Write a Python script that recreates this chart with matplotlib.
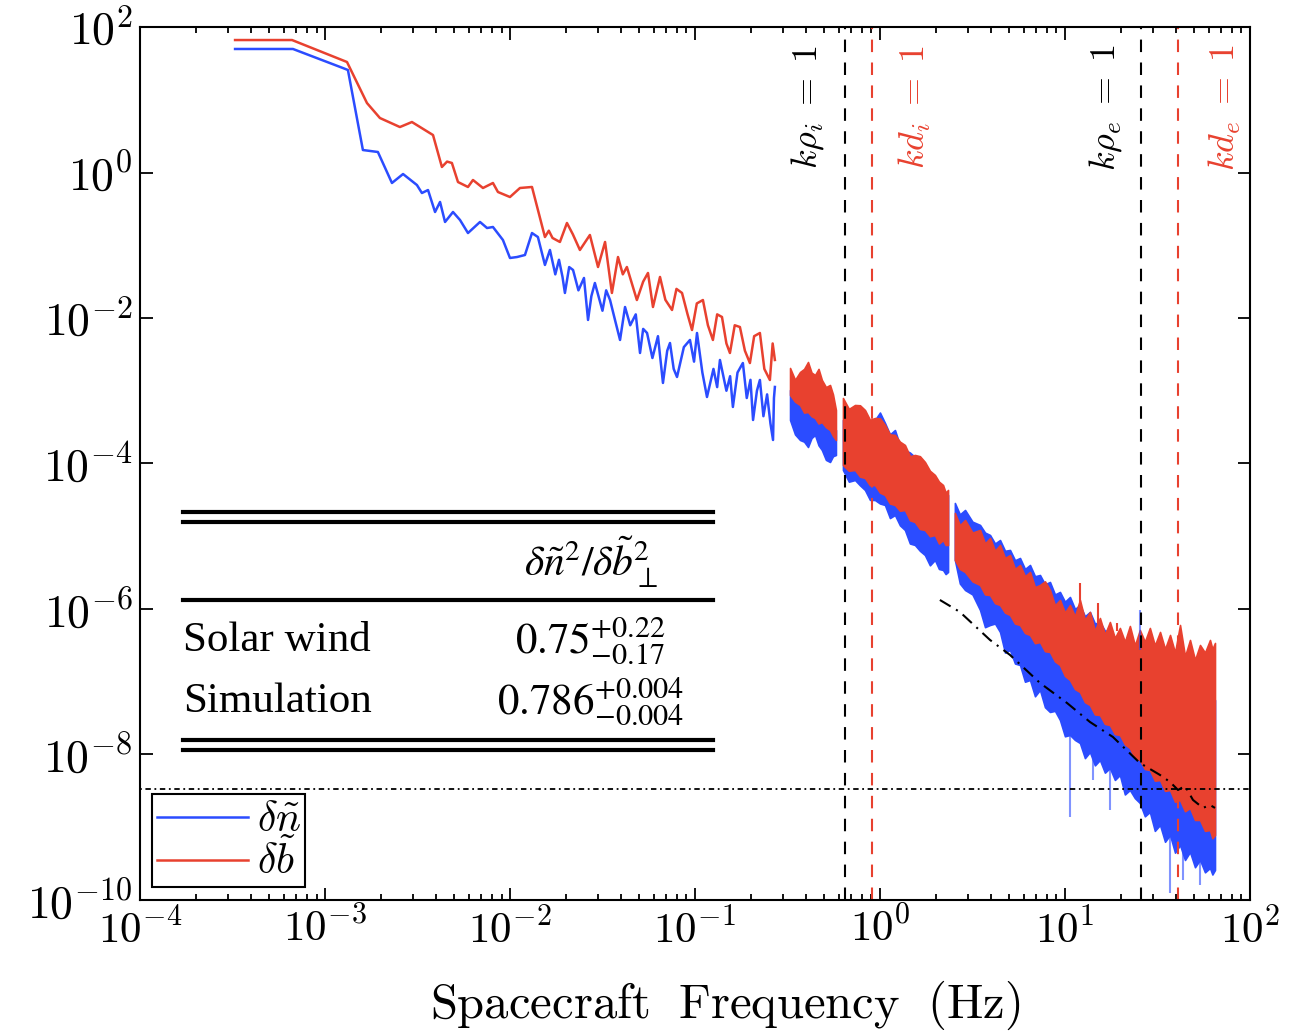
import numpy as np
import matplotlib
matplotlib.use('Agg')
import matplotlib.pyplot as plt
from matplotlib.lines import Line2D
from matplotlib.ticker import FixedLocator, FuncFormatter, LogLocator, NullLocator

plt.rcParams['mathtext.fontset'] = 'cm'
plt.rcParams['font.family'] = ['DejaVu Serif']

BLUE = '#2b4cff'
RED = '#e8412f'

# ---- data: log10(frequency / Hz) and log10(PSD) ----
# low frequency part, single traces
blue_a_logf = [-3.486, -3.173, -2.903, -2.876, -2.795, -2.714, -2.638, -2.578, -2.503, -2.476,
               -2.443, -2.405, -2.378, -2.351, -2.308, -2.270, -2.227, -2.162, -2.124, -2.092,
               -2.038, -2.000, -1.962, -1.919, -1.881, -1.849, -1.811, -1.784, -1.755, -1.735,
               -1.716, -1.703, -1.680, -1.659, -1.630, -1.600, -1.578, -1.560, -1.541, -1.500,
               -1.480, -1.459, -1.430, -1.405, -1.378, -1.350, -1.320, -1.297, -1.280, -1.259,
               -1.230, -1.200, -1.173, -1.150, -1.135, -1.115, -1.097, -1.060, -1.027, -1.005,
               -0.989, -0.960, -0.935, -0.900, -0.880, -0.865, -0.830, -0.810, -0.795, -0.770,
               -0.741, -0.720, -0.700, -0.686, -0.665, -0.649, -0.630, -0.610, -0.592, -0.578,
               -0.573, -0.568]
blue_a_logp = [1.698, 1.698, 1.436, 1.409, 0.309, 0.282, -0.144, -0.021, -0.172, -0.282,
               -0.241, -0.543, -0.405, -0.680, -0.543, -0.653, -0.832, -0.680, -0.763, -0.749,
               -0.928, -1.175, -1.162, -1.134, -0.832, -0.887, -1.271, -1.065, -1.400, -1.200,
               -1.436, -1.656, -1.300, -1.340, -1.620, -1.450, -2.027, -1.700, -1.519, -1.900,
               -1.620, -1.753, -2.050, -2.302, -1.849, -2.100, -1.950, -2.481, -2.150, -2.206,
               -2.550, -2.250, -2.893, -2.450, -2.344, -2.700, -2.811, -2.400, -2.302, -2.600,
               -2.206, -2.750, -3.086, -2.700, -2.950, -2.577, -3.000, -2.800, -3.223, -2.750,
               -2.619, -3.100, -2.850, -3.402, -3.000, -2.852, -3.350, -3.050, -3.450, -3.677,
               -3.100, -2.948]

red_a_logf = [-3.486, -3.178, -2.881, -2.773, -2.703, -2.595, -2.530, -2.416, -2.368, -2.340,
              -2.314, -2.281, -2.227, -2.200, -2.146, -2.092, -2.065, -2.000, -1.946, -1.881,
              -1.811, -1.790, -1.770, -1.730, -1.692, -1.660, -1.622, -1.568, -1.524, -1.486,
              -1.449, -1.416, -1.390, -1.368, -1.314, -1.280, -1.254, -1.227, -1.189, -1.160,
              -1.124, -1.100, -1.070, -1.040, -1.016, -0.990, -0.957, -0.930, -0.903, -0.880,
              -0.854, -0.830, -0.811, -0.785, -0.757, -0.730, -0.703, -0.680, -0.649, -0.625,
              -0.595, -0.580, -0.568]
red_a_logp = [1.821, 1.821, 1.519, 0.955, 0.749, 0.625, 0.694, 0.515, 0.076, 0.150,
              0.131, -0.131, -0.199, -0.103, -0.213, -0.144, -0.268, -0.337, -0.213, -0.199,
              -0.887, -0.800, -0.900, -0.955, -0.694, -0.850, -1.065, -0.859, -1.299, -0.955,
              -1.656, -1.162, -1.400, -1.299, -1.753, -1.500, -1.381, -1.849, -1.436, -1.750,
              -1.890, -1.600, -1.656, -1.950, -2.165, -1.800, -1.753, -2.100, -2.302, -1.950,
              -1.986, -2.350, -2.481, -2.100, -2.124, -2.450, -2.619, -2.250, -2.206, -2.700,
              -2.852, -2.350, -2.577]

# high frequency parts, dense traces given as lower / upper envelopes
b1_logf = [-0.486, -0.459, -0.432, -0.410, -0.389, -0.370, -0.351, -0.332, -0.314, -0.292,
           -0.270, -0.254, -0.238]
b1_red_hi = [-2.687, -2.850, -2.742, -2.700, -2.605, -2.750, -2.784, -2.700, -2.852, -2.950,
             -2.921, -3.050, -3.265]
b1_red_lo = [-3.058, -3.150, -3.196, -3.300, -3.292, -3.350, -3.375, -3.450, -3.430, -3.500,
             -3.540, -3.620, -3.677]
b1_blue_hi = [-2.990, -3.050, -3.100, -3.150, -3.196, -3.220, -3.265, -3.300, -3.333, -3.400,
              -3.471, -3.500, -3.540]
b1_blue_lo = [-3.402, -3.600, -3.677, -3.700, -3.773, -3.650, -3.608, -3.750, -3.814, -3.950,
              -3.979, -3.900, -3.883]

b2_logf = [-0.200, -0.168, -0.135, -0.108, -0.081, -0.054, -0.027, 0.000, 0.027, 0.054, 0.081,
           0.108, 0.135, 0.162, 0.189, 0.216, 0.243, 0.270, 0.297, 0.319, 0.341, 0.355, 0.368]
b2_red_hi = [-3.100, -3.250, -3.196, -3.200, -3.265, -3.400, -3.375, -3.380, -3.471, -3.600, -3.608,
             -3.700, -3.746, -3.900, -3.883, -3.900, -3.979, -4.100, -4.158, -4.250, -4.296, -4.400, -4.364]
b2_red_lo = [-4.021, -4.100, -4.089, -4.180, -4.199, -4.300, -4.296, -4.400, -4.433, -4.550, -4.570,
             -4.650, -4.639, -4.780, -4.804, -4.900, -4.914, -5.000, -4.983, -5.100, -5.052, -5.120, -5.120]
b2_blue_hi = [-3.402, -3.450, -3.375, -3.500, -3.333, -3.450, -3.402, -3.300, -3.443, -3.600, -3.540,
              -3.750, -3.814, -3.850, -3.911, -4.050, -4.089, -4.200, -4.227, -4.350, -4.364, -4.400, -4.433]
b2_blue_lo = [-4.089, -4.250, -4.227, -4.300, -4.364, -4.500, -4.502, -4.550, -4.570, -4.750, -4.708,
              -4.850, -4.914, -5.100, -5.120, -5.200, -5.258, -5.400, -5.326, -5.450, -5.464, -5.520, -5.491]

c_logf = [0.405, 0.432, 0.460, 0.500, 0.541, 0.568, 0.595, 0.622, 0.649, 0.676, 0.703, 0.730,
          0.757, 0.784, 0.811, 0.838, 0.865, 0.892, 0.919, 0.946, 0.973, 1.000, 1.027, 1.054,
          1.081, 1.108, 1.135, 1.162, 1.189, 1.216, 1.243, 1.270, 1.297, 1.324, 1.351, 1.378,
          1.405, 1.432, 1.459, 1.486, 1.514, 1.541, 1.568, 1.595, 1.622, 1.649, 1.676, 1.703,
          1.730, 1.757, 1.784, 1.797, 1.811]
c_red_hi = [-4.680, -4.850, -4.777, -4.950, -4.914, -5.100, -5.024, -5.200, -5.120, -5.300, -5.258, -5.450,
            -5.395, -5.550, -5.491, -5.700, -5.670, -5.620, -5.739, -5.950, -5.876, -6.050, -5.945, -6.100,
            -5.876, -6.150, -6.041, -6.300, -6.124, -6.350, -6.179, -6.400, -6.261, -6.450, -6.234, -6.500,
            -6.289, -6.450, -6.261, -6.500, -6.316, -6.550, -6.357, -6.600, -6.220, -6.650, -6.426, -6.700,
            -6.495, -6.600, -6.426, -6.550, -6.467]
c_red_lo = [-5.326, -5.450, -5.491, -5.620, -5.670, -5.800, -5.808, -5.920, -5.945, -6.050, -6.082, -6.200,
            -6.220, -6.330, -6.357, -6.470, -6.454, -6.580, -6.591, -6.720, -6.770, -6.920, -6.976, -7.100,
            -7.141, -7.280, -7.320, -7.450, -7.457, -7.580, -7.595, -7.720, -7.732, -7.860, -7.911, -8.050,
            -8.076, -8.200, -8.213, -8.360, -8.351, -8.500, -8.488, -8.650, -8.625, -8.780, -8.735, -8.900,
            -8.900, -9.050, -9.038, -9.150, -9.107]
c_blue_hi = [-4.543, -4.700, -4.639, -4.800, -4.845, -4.950, -4.983, -5.100, -5.052, -5.200, -5.189, -5.330,
             -5.299, -5.450, -5.395, -5.550, -5.533, -5.660, -5.629, -5.800, -5.766, -5.900, -5.835, -6.000,
             -5.945, -6.100, -6.041, -6.200, -6.179, -6.300, -6.289, -6.400, -6.426, -6.500, -6.495, -6.550,
             -6.564, -6.650, -6.701, -6.780, -6.838, -6.900, -6.976, -7.050, -7.113, -7.200, -7.251, -7.300,
             -7.320, -7.350, -7.320, -7.300, -7.251]
c_blue_lo = [-5.326, -5.650, -5.739, -5.800, -6.014, -6.250, -6.220, -6.200, -6.316, -6.600, -6.564, -6.750,
             -6.770, -7.000, -6.976, -7.200, -7.113, -7.350, -7.416, -7.400, -7.526, -7.750, -7.732, -7.800,
             -7.842, -8.050, -7.966, -8.150, -8.076, -8.250, -8.186, -8.350, -8.282, -8.550, -8.488, -8.600,
             -8.667, -8.850, -8.790, -9.050, -8.969, -9.200, -9.107, -9.350, -9.244, -9.450, -9.340, -9.550,
             -9.450, -9.620, -9.560, -9.650, -9.588]

# isolated spikes (log10 f, log10 low, log10 high)
blue_spike_logf = [1.027, 1.151, 1.243, 1.405, 1.568, 1.638, 1.730]
blue_spike_lo = [-8.859, -8.351, -8.763, -6.564, -9.904, -9.725, -9.794]
blue_spike_hi = [-7.732, -7.990, -8.186, -6.014, -9.107, -9.244, -9.450]
red_spike_logf = [1.081, 1.178, 1.281]
red_spike_lo = [-6.000, -6.200, -6.300]
red_spike_hi = [-5.643, -5.917, -6.192]

# simulation spectrum (dash-dot)
sim_logf = [0.324, 0.432, 0.595, 0.703, 0.865, 1.011, 1.135, 1.259, 1.405, 1.514, 1.568, 1.611, 1.649,
            1.692, 1.746, 1.784, 1.811]
sim_logp = [-5.876, -6.041, -6.426, -6.632, -7.017, -7.292, -7.553, -7.759, -8.117, -8.282, -8.378, -8.488,
            -8.433, -8.625, -8.735, -8.694, -8.735]

noise_floor = 3.4e-9
scale_freqs = [0.645, 0.905, 25.8, 40.8]
scale_labels = [r'$k\rho_i\;=\;1$', r'$kd_i\;=\;1$', r'$k\rho_e\;=\;1$', r'$kd_e\;=\;1$']
scale_colors = ['k', RED, 'k', RED]
scale_label_dx = [-37, 43, -36, 47]

table_rows = ['Solar wind', 'Simulation']
table_vals = [r'$0.75^{+0.22}_{-0.17}$', r'$0.786^{+0.004}_{-0.004}$']
table_head = r'$\delta\tilde{n}^2/\delta\tilde{b}_{\perp}^2$'


def p10(v):
    return 10.0 ** np.asarray(v)


fig = plt.figure(figsize=(12.89, 10.31), dpi=100)
ax = fig.add_axes([0.1086, 0.1271, 0.8611, 0.8467])

# low-frequency traces
ax.plot(p10(blue_a_logf), p10(blue_a_logp), color=BLUE, lw=1.8, label=r'$\delta\tilde{n}$')
ax.plot(p10(red_a_logf), p10(red_a_logp), color=RED, lw=1.8, label=r'$\delta\tilde{b}$')

# dense high frequency traces
for lf, blo, bhi in [(b1_logf, b1_blue_lo, b1_blue_hi), (b2_logf, b2_blue_lo, b2_blue_hi),
                     (c_logf, c_blue_lo, c_blue_hi)]:
    ax.fill_between(p10(lf), p10(blo), p10(bhi), color=BLUE, lw=1.2, edgecolor=BLUE)
ax.vlines(p10(blue_spike_logf), p10(blue_spike_lo), p10(blue_spike_hi), color=BLUE, lw=1.5, alpha=0.6)
for lf, rlo, rhi in [(b1_logf, b1_red_lo, b1_red_hi), (b2_logf, b2_red_lo, b2_red_hi),
                     (c_logf, c_red_lo, c_red_hi)]:
    ax.fill_between(p10(lf), p10(rlo), p10(rhi), color=RED, lw=1.2, edgecolor=RED)
ax.vlines(p10(red_spike_logf), p10(red_spike_lo), p10(red_spike_hi), color=RED, lw=1.5)

ax.plot(p10(sim_logf), p10(sim_logp), color='k', lw=1.5, ls=(0, (6, 3, 1, 3)))

ax.axhline(noise_floor, color='k', lw=1.3, ls=(0, (1, 2, 3, 2)))
for fq, lab, col, dx in zip(scale_freqs, scale_labels, scale_colors, scale_label_dx):
    ax.axvline(fq, color=col, lw=1.5, ls=(0, (6, 5)))
    ax.annotate(lab, xy=(fq, 0.908), xycoords=('data', 'axes fraction'),
                xytext=(dx, 0), textcoords='offset pixels', rotation=90,
                color=col, fontsize=26, ha='center', va='center')

ax.set_xscale('log')
ax.set_yscale('log')
ax.set_xlim(1e-4, 1e2)
ax.set_ylim(1e-10, 1e2)

ax.yaxis.set_major_locator(FixedLocator([10.0 ** e for e in range(-10, 3, 2)]))
ax.yaxis.set_minor_locator(NullLocator())
ax.xaxis.set_major_locator(FixedLocator([10.0 ** e for e in range(-4, 3)]))
ax.xaxis.set_minor_locator(LogLocator(base=10, subs=np.arange(2, 10), numticks=20))
fmt = FuncFormatter(lambda v, pos: r'$10^{%d}$' % int(round(np.log10(v))))
ax.xaxis.set_major_formatter(fmt)
ax.yaxis.set_major_formatter(fmt)
ax.tick_params(which='both', direction='in', top=True, right=True, width=1.3)
ax.tick_params(which='major', length=9, pad=6)
ax.tick_params(axis='x', which='major', labelsize=31)
ax.tick_params(axis='y', which='major', labelsize=33, pad=5)
ax.tick_params(which='minor', length=4.5)
for s in ax.spines.values():
    s.set_linewidth(1.5)

ax.set_xlabel(r'$\mathrm{Spacecraft\ \ Frequency\ \ (Hz)}$', fontsize=35)
ax.xaxis.set_label_coords(0.527, -0.090)

leg = ax.legend(loc='lower left', fontsize=30, handlelength=2.2, borderaxespad=0.3,
                borderpad=0.1, labelspacing=0.0, handletextpad=0.2, fancybox=False,
                framealpha=1)
leg.get_frame().set_edgecolor('k')
leg.get_frame().set_linewidth(1.5)

# summary table drawn inside the axes
tx0, tx1 = 0.0387, 0.516
for yy in [0.4444, 0.4330, 0.3436, 0.1833, 0.1718]:
    ax.add_line(Line2D([tx0, tx1], [yy, yy], transform=ax.transAxes, color='k', lw=3))
ax.text(0.406, 0.387, table_head, transform=ax.transAxes, fontsize=30, ha='center',
        va='center', math_fontfamily='stix')
for row, val, yy in zip(table_rows, table_vals, [0.2967, 0.2268]):
    ax.text(tx0, yy, row, transform=ax.transAxes, fontsize=31, ha='left', va='center',
            family='Liberation Serif')
    ax.text(0.406, yy, val, transform=ax.transAxes, fontsize=31, ha='center', va='center',
            math_fontfamily='stix')

fig.savefig('out.png', dpi=100)
